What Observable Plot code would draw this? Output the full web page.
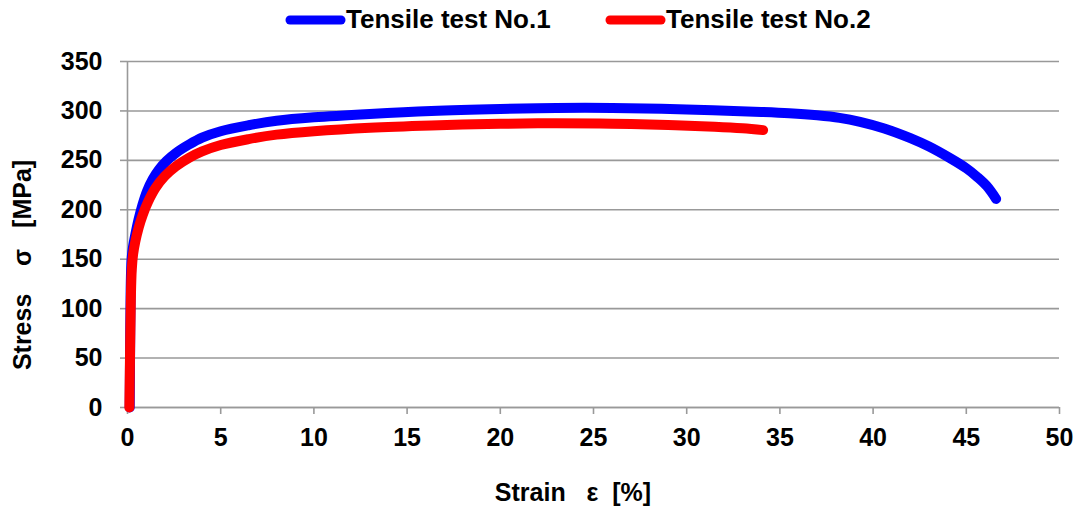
<!DOCTYPE html>
<html>
<head>
<meta charset="utf-8">
<script src="https://cdn.jsdelivr.net/npm/d3@7"></script>
<script src="https://cdn.jsdelivr.net/npm/@observablehq/plot@0.6"></script>
<style>
  body { margin: 0; background: #fff; }
  #legend { height: 44px; position: relative; font: bold 26px "Liberation Sans", Arial, sans-serif; color: #000; }
  .item { position: absolute; top: 4px; display: flex; align-items: center; white-space: nowrap; }
</style>
</head>
<body>
<div id="legend"></div>
<div id="chart"></div>
<script>
// ---- data ----
const seriesNames = ["Tensile test No.1", "Tensile test No.2"];
const seriesColors = ["#0000ff", "#ff0000"];

const test1Strain = [0.12, 0.14, 0.17, 0.22, 0.3, 0.42, 0.59, 0.8, 1.05, 1.35, 1.7, 2.1, 2.6, 3.3, 4.0, 5.0, 6.5, 8, 10, 13, 16.3, 20, 23, 26, 30, 34, 35.5, 37, 38.2, 39.3, 40.6, 42, 43, 44.15, 45, 45.6, 46.1, 46.6];
const test1Stress = [0, 60, 120, 150, 163, 175, 190, 205, 219, 231, 241, 249.5, 257.5, 266, 273, 279.5, 285.5, 290, 293.5, 297, 300, 302, 303, 303, 301.5, 299, 297.7, 295.6, 293, 289, 282.3, 272.5, 264, 252, 242, 233, 224, 211];

const test2Strain = [0.1, 0.14, 0.18, 0.23, 0.3, 0.42, 0.6, 0.82, 1.1, 1.5, 2.0, 2.6, 3.3, 4.0, 5.0, 6.5, 8, 10, 13, 16.3, 20, 23, 26, 29, 31.5, 33, 34.1];
const test2Stress = [0, 60, 110, 140, 155, 168, 182, 195, 208, 222, 234, 244, 252.5, 259, 265.5, 271.5, 276, 279.5, 283, 285.3, 287, 287.5, 287, 285.8, 284, 282.4, 280.6];

const xTicks = [0, 5, 10, 15, 20, 25, 30, 35, 40, 45, 50];
const yTicks = [0, 50, 100, 150, 200, 250, 300, 350];

const xLabel = "Strain   ε  [%]";
const yLabel = "Stress    σ   [MPa]";

// ---- tables ----
const test1 = test1Strain.map((x, i) => ({x, y: test1Stress[i]}));
const test2 = test2Strain.map((x, i) => ({x, y: test2Stress[i]}));

// ---- legend ----
const legend = document.getElementById("legend");
const legendLeft = [285, 605];
seriesNames.forEach((name, i) => {
  const item = document.createElement("div");
  item.className = "item";
  item.style.left = legendLeft[i] + "px";
  item.innerHTML = `<svg width="61" height="14"><line x1="5" y1="7" x2="56" y2="7" stroke="${seriesColors[i]}" stroke-width="9" stroke-linecap="round"/></svg><span>${name}</span>`;
  legend.appendChild(item);
});

// ---- chart ----
const grey = "#999999";
const chart = Plot.plot({
  width: 1078,
  height: 464,
  marginLeft: 127,
  marginRight: 19,
  marginTop: 17,
  marginBottom: 101,
  style: {fontFamily: "'Liberation Sans', Arial, sans-serif", fontSize: "25px", fontWeight: "bold", color: "#000", background: "#fff"},
  x: {domain: [0, 50]},
  y: {domain: [0, 350]},
  marks: [
    Plot.gridY(yTicks, {stroke: grey, strokeOpacity: 1, strokeWidth: 1.6}),
    Plot.ruleX([0], {stroke: grey, strokeWidth: 1.6}),
    Plot.ruleY([0], {stroke: grey, strokeWidth: 1.6}),
    Plot.axisY(yTicks, {tickSize: 7, tickPadding: 18, stroke: grey, strokeWidth: 1.6, fill: "#000", label: null}),
    Plot.axisX(xTicks, {tickSize: 7, tickPadding: 14, stroke: grey, strokeWidth: 1.6, fill: "#000", label: null}),
    Plot.line(test1, {x: "x", y: "y", stroke: seriesColors[0], strokeWidth: 10, curve: "catmull-rom", strokeLinecap: "round", strokeLinejoin: "round"}),
    Plot.line(test2, {x: "x", y: "y", stroke: seriesColors[1], strokeWidth: 10, curve: "catmull-rom", strokeLinecap: "round", strokeLinejoin: "round"})
  ]
});
document.getElementById("chart").appendChild(chart);

// axis titles
const svg = d3.select(chart);
svg.append("text")
  .attr("x", 573).attr("y", 457)
  .attr("text-anchor", "middle")
  .style("white-space", "pre")
  .attr("fill", "#000")
  .text(xLabel);
svg.append("text")
  .attr("transform", "translate(31,221) rotate(-90)")
  .attr("text-anchor", "middle")
  .style("white-space", "pre")
  .attr("fill", "#000")
  .text(yLabel);
</script>
</body>
</html>
